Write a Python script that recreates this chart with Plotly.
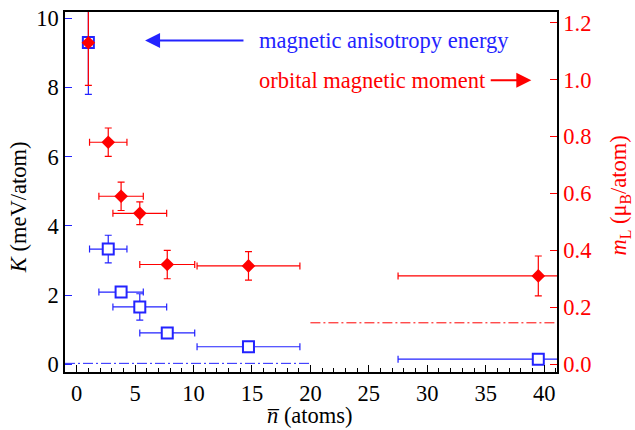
import plotly.graph_objects as go

# Data
n_K = [1.0, 2.7, 3.8, 5.4, 7.75, 14.7, 39.5]
n_err = [0.0, 1.6, 1.9, 2.3, 2.35, 4.4, 12.0]
K_vals = [9.3, 3.33, 2.09, 1.66, 0.91, 0.51, 0.15]
K_err = [1.5, 0.4, 0.1, 0.38, 0.1, 0.1, 0.05]

n_m = [1.0, 2.7, 3.8, 5.4, 7.75, 14.7, 39.5]
m_vals = [1.13, 0.78, 0.59, 0.53, 0.35, 0.345, 0.31]
m_err = [0.15, 0.05, 0.05, 0.04, 0.05, 0.05, 0.07]

K_ref_x = [-1.0, 20.0]
K_ref_y = [0.03, 0.03]
m_ref_x = [20.0, 41.1]
m_ref_y = [0.145, 0.145]

x_ticks = [0, 5, 10, 15, 20, 25, 30, 35, 40]
K_ticks = [0, 2, 4, 6, 8, 10]
m_ticks = [0, 0.2, 0.4, 0.6, 0.8, 1.0, 1.2]

FONT = "Liberation Serif"
FS = 22.5
BLUE = "rgb(35,35,255)"
RED = "rgb(255,0,0)"

fig = go.Figure()

fig.add_trace(go.Scatter(x=K_ref_x, y=K_ref_y, mode="lines",
                         line=dict(color=BLUE, width=1, dash="10px,3px,2px,3px"),
                         showlegend=False, yaxis="y"))
fig.add_trace(go.Scatter(
    x=n_K, y=K_vals, mode="markers",
    marker=dict(symbol="square", size=11, color="white", line=dict(width=2, color=BLUE)),
    error_x=dict(type="data", array=n_err, color=BLUE, thickness=1.2, width=3.5),
    error_y=dict(type="data", array=K_err, color=BLUE, thickness=1.2, width=3.5),
    showlegend=False, yaxis="y"))

fig.add_trace(go.Scatter(x=m_ref_x, y=m_ref_y, mode="lines",
                         line=dict(color=RED, width=1, dash="10px,3px,2px,3px"),
                         showlegend=False, yaxis="y2"))
fig.add_trace(go.Scatter(
    x=n_m, y=m_vals, mode="markers",
    marker=dict(symbol="diamond", size=10.5, color=RED),
    error_x=dict(type="data", array=[e if i else 0 for i, e in enumerate(n_err)],
                 color=RED, thickness=1.2, width=3.5),
    error_y=dict(type="data", array=m_err, color=RED, thickness=1.2, width=3.5),
    showlegend=False, yaxis="y2"))

fig.update_layout(
    width=635, height=430,
    margin=dict(l=65, r=78, t=12, b=58),
    paper_bgcolor="white", plot_bgcolor="white",
    font=dict(family=FONT, size=FS, color="black"),
    xaxis=dict(range=[-1, 41.1], tickvals=x_ticks,
               ticks="inside", ticklen=7, tickcolor="black", tickwidth=1,
               tickfont=dict(family=FONT, size=FS, color="black"),
               minor=dict(dtick=1, tick0=0, ticks="inside", ticklen=4, tickcolor="black"),
               showline=True, linecolor="black", linewidth=1.5, mirror=True,
               showgrid=False, zeroline=False, automargin=False),
    yaxis=dict(range=[-0.22, 10.18], tickvals=K_ticks,
               ticks="inside", ticklen=7, tickcolor=BLUE, tickwidth=1,
               tickfont=dict(family=FONT, size=FS, color="black"),
               showline=True, linecolor="black", linewidth=1.5,
               showgrid=False, zeroline=False, automargin=False),
    yaxis2=dict(range=[-0.028, 1.238], tickvals=m_ticks,
                tickformat=".1f", overlaying="y", side="right",
                ticks="inside", ticklen=7, tickcolor=RED, tickwidth=1,
                tickfont=dict(family=FONT, size=FS, color=RED),
                showline=True, linecolor="black", linewidth=1.5,
                showgrid=False, zeroline=False, automargin=False),
)

# axis titles
fig.add_annotation(xref="paper", yref="paper", x=-0.0955, y=0.458,
                   text="<i>K</i> (meV/atom)", textangle=-90, showarrow=False,
                   xanchor="center", yanchor="middle",
                   font=dict(family=FONT, size=FS, color="black"))
fig.add_annotation(xref="paper", yref="paper", x=0.498, y=-0.122,
                   text="<i>n\u0305</i> (atoms)", showarrow=False,
                   xanchor="center", yanchor="middle",
                   font=dict(family=FONT, size=FS, color="black"))
fig.add_annotation(xref="paper", yref="paper", x=1.128, y=0.49,
                   text="<i>m</i><sub>L</sub> (\u03bc<sub>B</sub>/atom)", textangle=-90,
                   showarrow=False, xanchor="center", yanchor="middle",
                   font=dict(family=FONT, size=FS, color=RED))

# in-plot labels with arrows
fig.add_annotation(x=5.85, y=9.36, ax=14.4, ay=9.36, xref="x", yref="y",
                   axref="x", ayref="y", text="", showarrow=True,
                   arrowhead=2, arrowsize=1.5, arrowwidth=2, arrowcolor=BLUE)
fig.add_annotation(x=15.45, y=9.36, xref="x", yref="y", text="magnetic anisotropy energy",
                   showarrow=False, xanchor="left", yanchor="middle",
                   font=dict(color=BLUE, size=FS, family=FONT))
fig.add_annotation(x=38.9, y=8.21, ax=35.3, ay=8.21, xref="x", yref="y",
                   axref="x", ayref="y", text="", showarrow=True,
                   arrowhead=2, arrowsize=1.5, arrowwidth=2, arrowcolor=RED)
fig.add_annotation(x=35.2, y=8.21, xref="x", yref="y", text="orbital magnetic moment",
                   showarrow=False, xanchor="right", yanchor="middle",
                   font=dict(color=RED, size=FS, family=FONT))

fig.write_html("out.html")
